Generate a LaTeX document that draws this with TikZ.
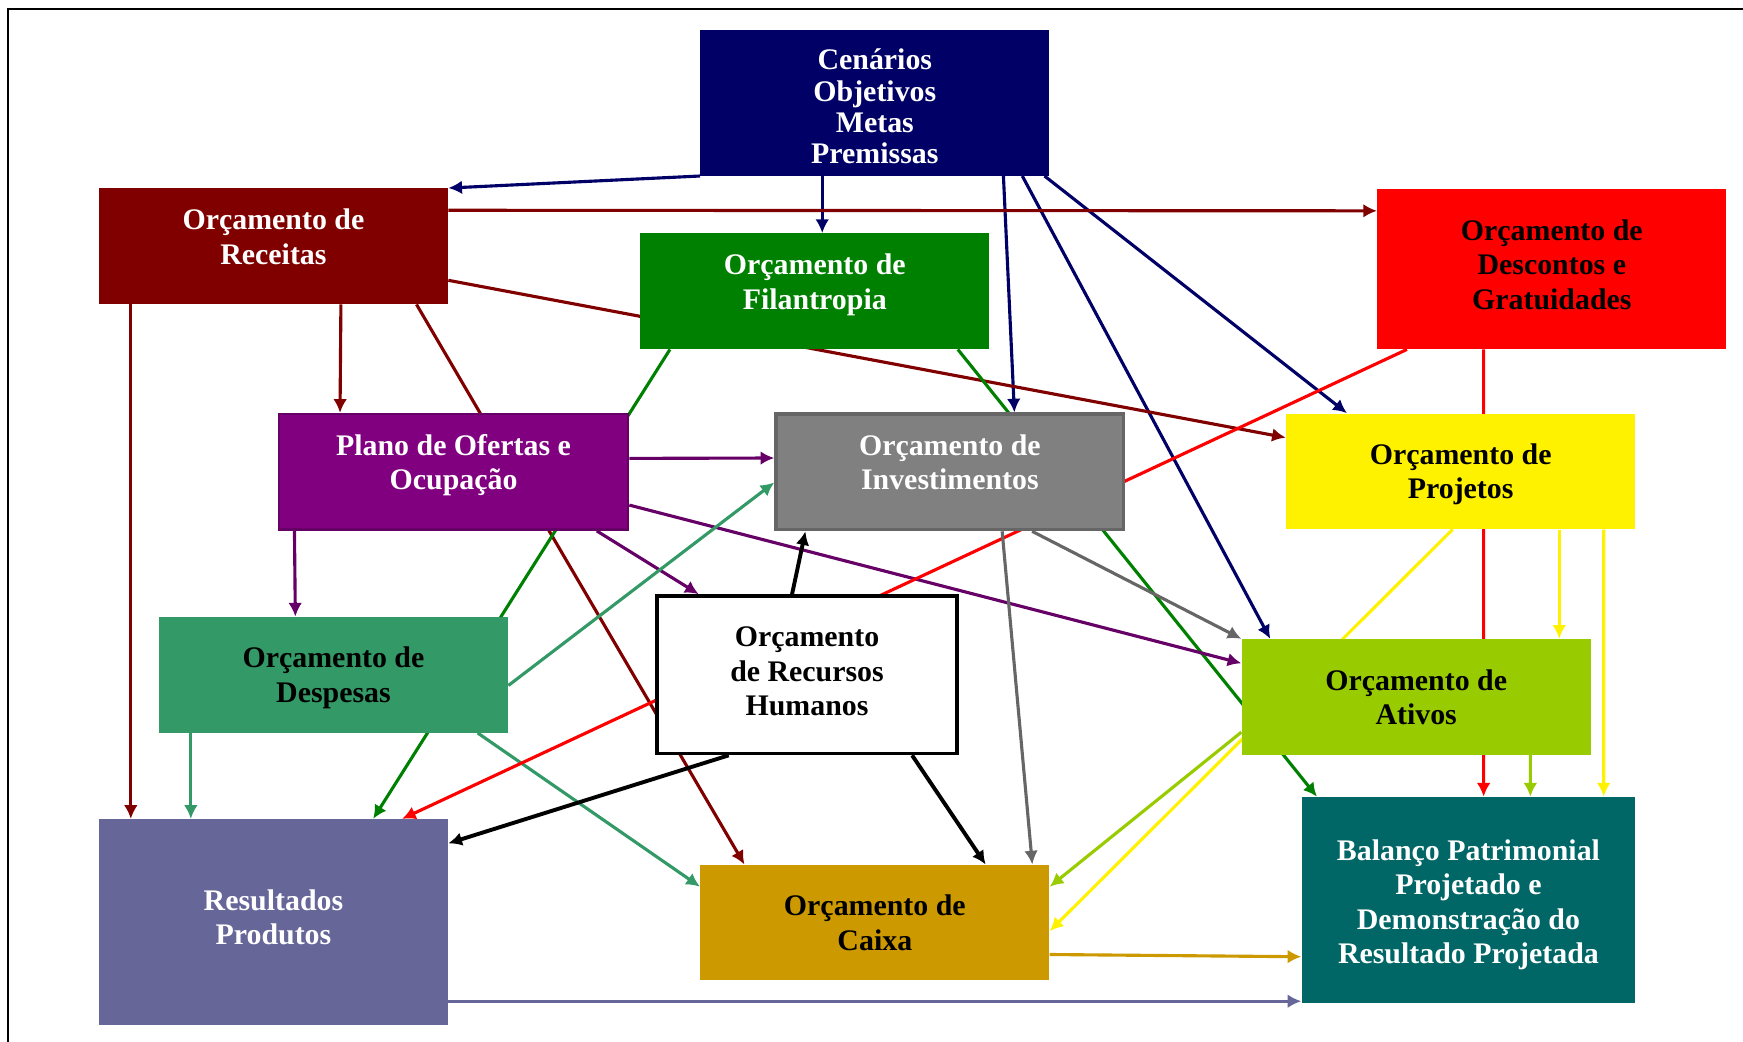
\documentclass[tikz,border=0pt]{standalone}
\usepackage{fontspec}
\setmainfont{Liberation Serif}
\usetikzlibrary{calc,arrows.meta,backgrounds}

\definecolor{cenblue}{RGB}{0,0,102}
\definecolor{recred}{RGB}{128,0,0}
\definecolor{filgreen}{RGB}{0,128,0}
\definecolor{ofepurple}{RGB}{128,0,128}
\definecolor{ofeline}{RGB}{102,0,102}
\definecolor{invgray}{RGB}{128,128,128}
\definecolor{invline}{RGB}{102,102,102}
\definecolor{dspgreen}{RGB}{51,153,102}
\definecolor{atigreen}{RGB}{153,204,0}
\definecolor{resblue}{RGB}{102,102,153}
\definecolor{caigold}{RGB}{204,153,0}
\definecolor{balteal}{RGB}{0,102,102}

\begin{document}
\begin{tikzpicture}[x=0.02cm, y=-0.02cm,
  box/.style={rectangle, inner sep=0pt, minimum width=6.28cm, minimum height=2.08cm,
    align=center, font=\fontsize{15.3}{17.6}\selectfont\bfseries},
  lift/.style={execute at end node={\rule[-#1]{0pt}{0pt}}}, lift/.default=10pt,
  drop/.style={execute at begin node={\rule{0pt}{#1}}}, drop/.default=31.5pt,
  link/.style={line width=1.6pt, -{Latex[length=7pt,width=7pt]}}]
\useasboundingbox (0,0) rectangle (1568,937);

% boxes
\node[box, drop=62.5pt, fill=cenblue, text=white, minimum height=2.62cm,
  font=\fontsize{15.3}{16}\selectfont\bfseries] (cen) at (787,92.5)
  {Cenários\\Objetivos\\Metas\\Premissas};
\node[box, lift, fill=recred, text=white] (rec) at (246,221.5) {Orçamento de\\Receitas};
\node[box, lift, fill=filgreen, text=white] (fil) at (733,262) {Orçamento de\\Filantropia};
\node[box, lift=4.6pt, fill=red, minimum height=2.88cm] (des) at (1396,242)
  {Orçamento de\\Descontos e\\Gratuidades};
\node[box, lift, fill=ofepurple, draw=ofeline, line width=1.3pt, text=white] (ofe) at (408,424.5)
  {Plano de Ofertas e\\Ocupação};
\node[box, lift, fill=invgray, draw=invline, line width=1.7pt, text=white, minimum width=6.26cm] (inv)
  at (854.5,424.5) {Orçamento de\\Investimentos};
\node[box, drop, fill=yellow] (pro) at (1314,424) {Orçamento de\\Projetos};
\node[box, drop, fill=dspgreen] (dsp) at (300,607) {Orçamento de\\Despesas};
\node[box, lift=3.4pt, fill=white, draw=black, line width=1.7pt, minimum width=5.4cm,
  minimum height=2.84cm] (rh) at (726,607) {Orçamento\\de Recursos\\Humanos};
\node[box, fill=atigreen] (ati) at (1274,627) {Orçamento de\\Ativos};
\node[box, lift=5pt, fill=resblue, text=white, minimum height=3.7cm] (res) at (246,829.5)
  {Resultados\\Produtos};
\node[box, fill=caigold] (cai) at (787,830) {Orçamento de\\Caixa};
\node[box, drop=68.5pt, fill=balteal, text=white, minimum width=6cm, minimum height=3.7cm] (bal)
  at (1321,809.5) {Balanço Patrimonial\\Projetado e\\Demonstração do\\Resultado Projetada};

\begin{pgfonlayer}{background}
\draw[line width=1pt] (7.5,937) -- (7.5,8) -- (1568,8);
% from Cenarios
\draw[link, cenblue] (cen.south west) -- (rec.north east);
\draw[link, cenblue] ($(cen.south west)+(110,0)$) -- ($(fil.north west)+(164,0)$);
\draw[link, cenblue] ($(cen.south west)+(273,0)$) -- ($(inv.north west)+(216,0)$);
\draw[link, cenblue] ($(cen.south west)+(290,0)$) -- ($(ati.north west)+(26,0)$);
\draw[link, cenblue] ($(cen.south west)+(310,0)$) -- ($(pro.north west)+(55,0)$);
% from Receitas
\draw[link, recred] ($(rec.north east)+(0,20)$) -- ($(des.north west)+(0,20)$);
\draw[link, recred] ($(rec.north east)+(0,83)$) -- ($(pro.north west)+(0,22)$);
\draw[link, recred] ($(rec.south west)+(218,0)$) -- ($(ofe.north west)+(56,0)$);
\draw[link, recred] ($(rec.south west)+(29,0)$) -- ($(res.north west)+(29,0)$);
\draw[link, recred] ($(rec.south west)+(286,0)$) -- ($(cai.north west)+(40,0)$);
% from Filantropia
\draw[link, filgreen] ($(fil.south west)+(27,0)$) -- ($(res.north west)+(247,0)$);
\draw[link, filgreen] ($(fil.south west)+(286,0)$) -- ($(bal.north west)+(14,0)$);
% from Plano de Ofertas
\draw[link, ofeline] ($(ofe.north east)+(0,41)$) -- ($(inv.north west)+(0,41)$);
\draw[link, ofeline] ($(ofe.north east)+(0,83)$) -- ($(ati.north west)+(0,22)$);
\draw[link, ofeline] ($(ofe.south west)+(287,0)$) -- ($(rh.north west)+(39,0)$);
\draw[link, ofeline] ($(ofe.south west)+(15,0)$) -- ($(dsp.north west)+(123,0)$);
% from Despesas
\draw[link, dspgreen] ($(dsp.north east)+(0,62)$) -- ($(inv.north west)+(0,63)$);
\draw[link, dspgreen] ($(dsp.south west)+(29,0)$) -- ($(res.north west)+(83,0)$);
\draw[link, dspgreen] ($(dsp.south west)+(287,0)$) -- ($(cai.north west)+(0,20)$);
% from Descontos
\draw[link, red] ($(des.south west)+(96,0)$) -- ($(bal.north west)+(164,0)$);
\draw[link, red] ($(des.south west)+(27,0)$) -- ($(res.north west)+(273,0)$);
% from Investimentos
\draw[link, invline] ($(inv.south west)+(232,0)$) -- (ati.north west);
\draw[link, invline] ($(inv.south west)+(205,0)$) -- ($(cai.north west)+(299,0)$);
% from Recursos Humanos
\draw[link, black, line width=2pt] ($(rh.north west)+(123,0)$) -- ($(inv.south west)+(28,0)$);
\draw[link, black, line width=2pt] ($(rh.south west)+(66,0)$) -- ($(res.north east)+(0,22)$);
\draw[link, black, line width=2pt] ($(rh.south west)+(231,0)$) -- ($(cai.north west)+(257,0)$);
% from Projetos
\draw[link, yellow] ($(pro.south west)+(246,0)$) -- ($(ati.north west)+(286,0)$);
\draw[link, yellow] ($(pro.south west)+(286,0)$) -- ($(bal.north west)+(272,0)$);
\draw[link, yellow] ($(pro.south west)+(150,0)$) -- ($(cai.north east)+(0,60)$);
% from Ativos
\draw[link, atigreen] ($(ati.north west)+(0,84)$) -- ($(cai.north east)+(0,20)$);
\draw[link, atigreen] ($(ati.south west)+(260,0)$) -- ($(bal.north west)+(206,0)$);
% to Balanco
\draw[link, caigold] ($(cai.north east)+(0,81)$) -- ($(bal.north west)+(0,144)$);
\draw[link, resblue] ($(res.north east)+(0,164)$) -- ($(bal.north west)+(0,184)$);
\end{pgfonlayer}
\end{tikzpicture}
\end{document}
